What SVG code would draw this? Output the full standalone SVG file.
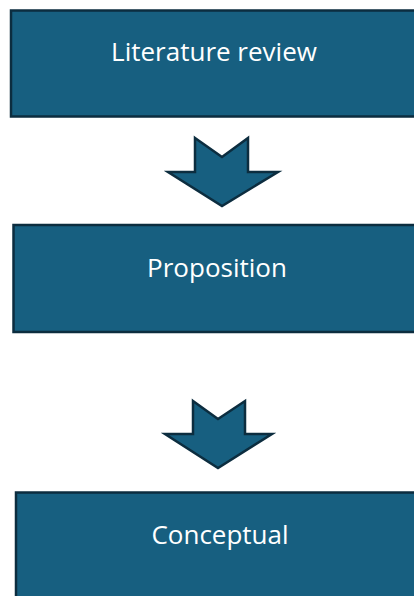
<svg xmlns="http://www.w3.org/2000/svg" width="414" height="596" viewBox="0 0 414 596">
  <style>
    .box { fill: #175F80; stroke: #0C2D3F; stroke-width: 2.5; }
    .arrow { fill: #175F80; stroke: #0C2D3F; stroke-width: 2.5; stroke-linejoin: miter; }
    .label { font-family: "Open Sans", "Liberation Sans", sans-serif; font-size: 26px; fill: #FFFFFF; text-anchor: middle; }
  </style>
  <rect width="414" height="596" fill="#FFFFFF"/>

  <g id="node-literature-review">
    <rect class="box" x="11" y="10.5" width="410" height="106"/>
    <text class="label" x="214" y="61">Literature review</text>
  </g>

  <g id="node-proposition">
    <rect class="box" x="13.5" y="225" width="410" height="107"/>
    <text class="label" x="217" y="277">Proposition</text>
  </g>

  <g id="node-conceptual">
    <rect class="box" x="16" y="492.5" width="410" height="120"/>
    <text class="label" x="220" y="544">Conceptual</text>
  </g>

  <g id="connectors">
    <polygon class="arrow" points="195,138 222,157 248,138 248,172 278,172 222,206 168,172 195,172"/>
    <polygon class="arrow" points="193,401 218,419 245,401 245,434 272,434 218,468 165,434 193,434"/>
  </g>
</svg>
